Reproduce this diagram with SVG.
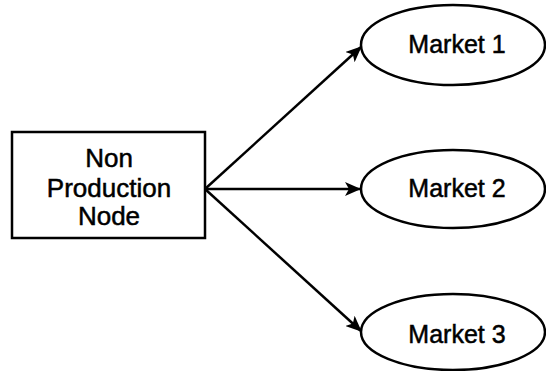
<svg xmlns="http://www.w3.org/2000/svg" width="546" height="371" viewBox="0 0 546 371">
  <style>
    .shape { fill: #ffffff; stroke: #000000; stroke-width: 2.5; }
    .label { font-family: "Liberation Sans", Arial, sans-serif; font-size: 25px; fill: #000000; stroke: #000000; stroke-width: 0.5; text-anchor: middle; }
    .edge { stroke: #000000; stroke-width: 2.5; fill: none; marker-end: url(#arrow); }
  </style>
  <defs>
    <marker id="arrow" markerWidth="16" markerHeight="14" refX="15" refY="7" orient="auto" markerUnits="userSpaceOnUse" viewBox="0 0 16 14">
      <path d="M0,0 L16,7 L0,14 L4,7 Z" fill="#000000"/>
    </marker>
  </defs>
  <rect width="546" height="371" fill="#ffffff"/>
  <g id="connectors">
    <line class="edge" x1="205" y1="189" x2="361" y2="47"/>
    <line class="edge" x1="205" y1="189" x2="360" y2="189"/>
    <line class="edge" x1="205" y1="189" x2="361" y2="331"/>
  </g>
  <g id="node-source">
    <rect class="shape" x="12" y="132" width="193" height="106"/>
    <text class="label" x="109" y="167" style="font-size:26px">Non</text>
    <text class="label" x="109" y="197" style="font-size:26px">Production</text>
    <text class="label" x="109" y="225" style="font-size:26px">Node</text>
  </g>
  <g id="node-market1">
    <ellipse class="shape" cx="453" cy="45" rx="92" ry="40"/>
    <text class="label" x="457" y="53">Market 1</text>
  </g>
  <g id="node-market2">
    <ellipse class="shape" cx="453" cy="189" rx="92" ry="39"/>
    <text class="label" x="457" y="197">Market 2</text>
  </g>
  <g id="node-market3">
    <ellipse class="shape" cx="453" cy="332" rx="92" ry="38"/>
    <text class="label" x="457" y="343">Market 3</text>
  </g>
</svg>
